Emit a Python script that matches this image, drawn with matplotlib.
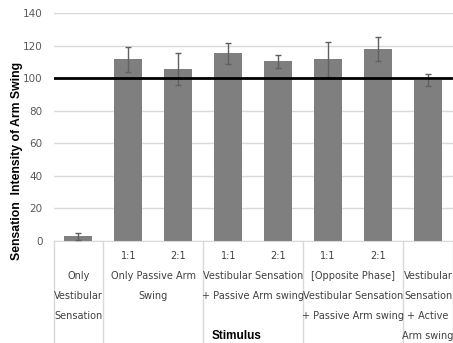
import matplotlib
matplotlib.use('Agg')
import matplotlib.pyplot as plt
from matplotlib.transforms import blended_transform_factory

# values
means = [2.9, 111.6, 105.7, 115.3, 110.4, 111.6, 118.0, 98.9]
errs = [2.2, 7.7, 10.0, 6.4, 3.9, 10.9, 7.2, 3.8]
ratios = ['', '1:1', '2:1', '1:1', '2:1', '1:1', '2:1', '']
groups = [['Only', 'Vestibular', 'Sensation'],
          ['Only Passive Arm', 'Swing'],
          ['Vestibular Sensation', '+ Passive Arm swing'],
          ['[Opposite Phase]', 'Vestibular Sensation', '+ Passive Arm swing'],
          ['Vestibular', 'Sensation', '+ Active', 'Arm swing']]
group_bars = [[0], [1, 2], [3, 4], [5, 6], [7]]
yticks = [0, 20, 40, 60, 80, 100, 120, 140]

fig = plt.figure(figsize=(4.53, 3.43), dpi=100)
ax = fig.add_axes([53.5 / 453, 1 - 241 / 343, 399.5 / 453, 228 / 343])

x = list(range(len(means)))
ax.bar(x, means, width=0.56, color='#7f7f80', zorder=2)
ax.errorbar(x, means, yerr=errs, fmt='none', ecolor='#606060',
            elinewidth=1, capsize=2.5, capthick=1, zorder=3)
ax.axhline(100, xmin=0, xmax=0.995, color='black', lw=2, zorder=4)

ax.set_xlim(-0.5, 7.5)
ax.set_ylim(0, 140)
ax.set_yticks(yticks)
ax.set_xticks([])
ax.yaxis.grid(True, color='#d9d9d9', lw=1)
ax.set_axisbelow(True)
ax.tick_params(axis='y', length=0, labelsize=7.5, labelcolor='#595959', pad=8)
for s in ['left', 'right', 'top']:
    ax.spines[s].set_visible(False)
ax.spines['bottom'].set_color('#d9d9d9')

# category separators below the axis, between the groups
tr = blended_transform_factory(ax.transData, fig.transFigure)
seps = [group_bars[0][0] - 0.5] + [g[-1] + 0.5 for g in group_bars]
for sx in seps:
    ax.plot([sx, sx], [1 - 241 / 343, 0], color='#d9d9d9', lw=1,
            transform=tr, clip_on=False)

for i, r in enumerate(ratios):
    if r:
        ax.text(i, 1 - 256 / 343, r, transform=tr, ha='center', va='center',
                fontsize=7, color='#404040')

for lines, bars in zip(groups, group_bars):
    cx = sum(bars) / len(bars)
    for k, line in enumerate(lines):
        ax.text(cx, 1 - (276 + 20 * k) / 343, line, transform=tr,
                ha='center', va='center', fontsize=7, color='#404040')

fig.text(17 / 453, 1 - 161 / 343, 'Sensation  Intensity of Arm Swing',
         rotation=90, ha='center', va='center', fontsize=8.8,
         fontweight='bold', family='Liberation Sans')
fig.text(237 / 453, 1 - 336 / 343, 'Stimulus', ha='center', va='center',
         fontsize=8.5, fontweight='bold', family='Liberation Sans')

fig.savefig('out.png', dpi=100)
